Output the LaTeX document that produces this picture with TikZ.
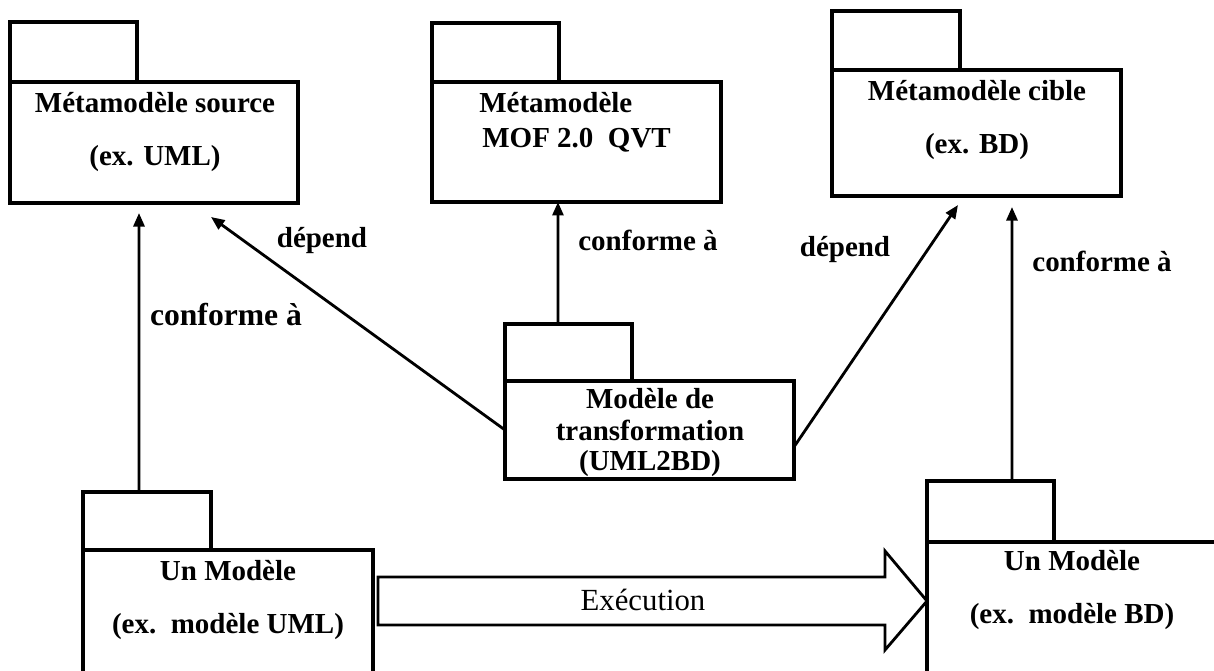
\documentclass[tikz,border=0pt]{standalone}
\usepackage{fontspec}
\setmainfont{Liberation Serif}
\usetikzlibrary{arrows.meta,calc}

\tikzset{
  pkgbox/.style={draw, line width=2pt, rectangle, inner sep=0pt, outer sep=0pt, anchor=north west},
  pkgtab/.style={draw, line width=2pt, rectangle, inner sep=0pt, outer sep=0pt, anchor=south west},
  title/.style={font=\fontsize{16.5}{18}\selectfont\bfseries, inner sep=0pt, anchor=base},
  lbl/.style={font=\fontsize{16.5}{18}\selectfont\bfseries, inner sep=0pt, anchor=base},
  arr/.style={line width=1.6pt, -{Triangle[length=0.27cm,width=0.22cm]}},
  blockarrow/.style={draw, line width=1.6pt, fill=white, line join=miter}
}

\begin{document}
\begin{tikzpicture}[x=0.02cm,y=-0.02cm]
\useasboundingbox (0,0) rectangle (1214,670);
\clip (0,0) rectangle (1214,670);

% package boxes and their tabs
\node[pkgbox, minimum width=5.76cm, minimum height=2.42cm] (src) at (10,82) {};
\node[pkgtab, minimum width=2.54cm, minimum height=1.2cm] (srctab) at (src.north west) {};

\node[pkgbox, minimum width=5.78cm, minimum height=2.4cm] (mof) at (432,82) {};
\node[pkgtab, minimum width=2.54cm, minimum height=1.18cm] (moftab) at (mof.north west) {};

\node[pkgbox, minimum width=5.78cm, minimum height=2.52cm] (cib) at (832,70) {};
\node[pkgtab, minimum width=2.56cm, minimum height=1.18cm] (cibtab) at (cib.north west) {};

\node[pkgbox, minimum width=5.78cm, minimum height=1.96cm] (tr) at (505,381) {};
\node[pkgtab, minimum width=2.54cm, minimum height=1.14cm] (trtab) at (tr.north west) {};

\node[pkgbox, minimum width=5.8cm, minimum height=4cm] (uml) at (83,550) {};
\node[pkgtab, minimum width=2.56cm, minimum height=1.16cm] (umltab) at (uml.north west) {};

\node[pkgbox, minimum width=8cm, minimum height=4cm] (bd) at (927,542) {};
\node[pkgtab, minimum width=2.54cm, minimum height=1.22cm] (bdtab) at (bd.north west) {};

% box texts (placed on their baselines)
\node[title] (srcA) at (155,112) {Métamodèle source};
\node[title] (srcB) at (155,165) {(ex. UML)};
\node[title, anchor=base west] (mofA) at (479,112) {Métamodèle};
\node[title, anchor=base west] (mofB) at (482,147) {MOF 2.0~~QVT};
\node[title] (cibA) at (977,100) {Métamodèle cible};
\node[title] (cibB) at (977,153) {(ex. BD)};
\node[title] (trA) at (650,408) {Modèle de};
\node[title] (trB) at (650,440) {transformation};
\node[title] (trC) at (650,470) {(UML2BD)};
\node[title] (umlA) at (228,580) {Un Modèle};
\node[title] (umlB) at (228,633) {(ex.~~modèle UML)};
\node[title] (bdA) at (1072,570) {Un Modèle};
\node[title] (bdB) at (1072,623) {(ex.~~modèle BD)};

% connector ends
\coordinate (t1) at (139,213);
\coordinate (t2) at (211,217);
\coordinate (t3) at (958,205);
\coordinate (t4) at (1012,207);

% dependency and conformance connectors
\draw[arr] ([xshift=-0.16cm]umltab.north) -- (t1);
\draw[arr] (tr.west) -- (t2);
\draw[arr] ([xshift=-0.21cm]trtab.north) -- ([xshift=-0.37cm]mof.south);
\draw[arr] ([yshift=-0.34cm]tr.east) -- (t3);
\draw[arr] ([xshift=0.43cm]bdtab.north) -- (t4);

% connector labels
\node[lbl, font=\fontsize{18}{20}\selectfont\bfseries] (l1) at (226,325) {conforme à};
\node[lbl] (l2) at (322,247) {dépend};
\node[lbl] (l3) at (648,250) {conforme à};
\node[lbl] (l4) at (845,256) {dépend};
\node[lbl] (l5) at (1102,271) {conforme à};

% execution block arrow
\coordinate (ea) at (378,601);
\coordinate (eb) at (bd.west |- ea);
\draw[blockarrow] ($(ea)+(0,-24)$) -- ($(eb)+(-42,-24)$) -- ($(eb)+(-42,-50)$) -- (eb)
  -- ($(eb)+(-42,49)$) -- ($(eb)+(-42,24)$) -- ($(ea)+(0,24)$) -- cycle;
\node[font=\fontsize{17.5}{19}\selectfont, inner sep=0pt, anchor=base] (exe) at (643,610) {Exécution};
\end{tikzpicture}
\end{document}
